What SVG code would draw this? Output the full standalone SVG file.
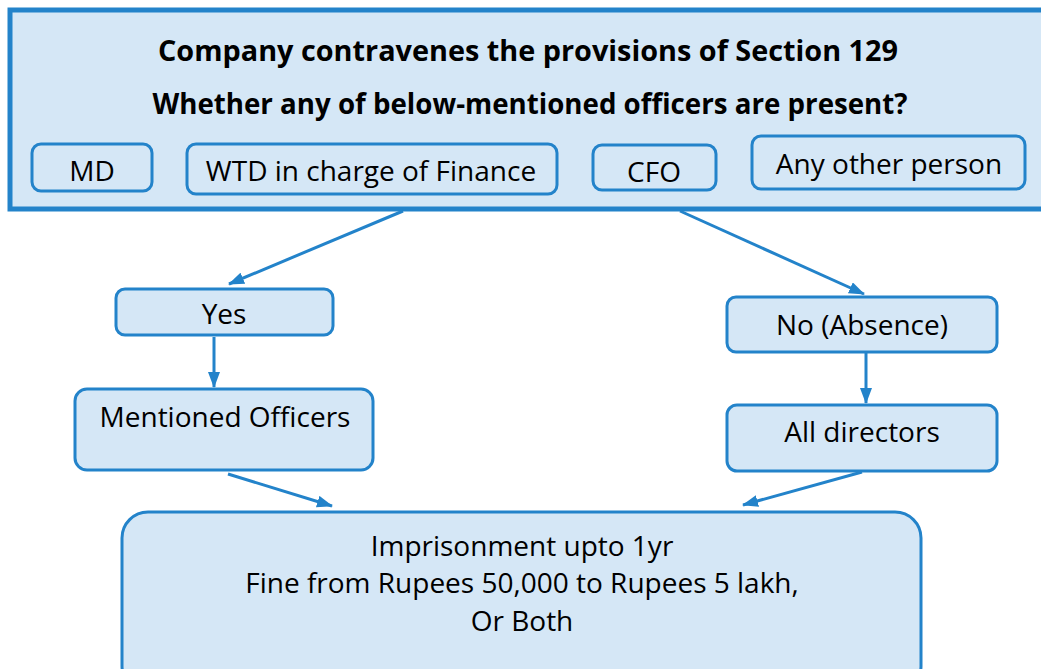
<svg xmlns="http://www.w3.org/2000/svg" width="1041" height="669" viewBox="0 0 1041 669">
<style>
.box{fill:#D5E7F6;stroke:#2383CA;stroke-width:3}
.t{font-family:"Open Sans","Noto Sans",sans-serif;font-size:28px;fill:#000;text-anchor:middle}
.b{font-weight:bold;font-size:28px}
.c{fill:none;stroke:#2383CA;stroke-width:3;marker-end:url(#ah)}
</style>
<defs>
<marker id="ah" viewBox="0 0 16 12" refX="15" refY="6" markerWidth="16" markerHeight="12" markerUnits="userSpaceOnUse" orient="auto">
<path d="M0,0 L16,6 L0,12 z" fill="#2383CA"/>
</marker>
</defs>
<rect width="1041" height="669" fill="#fff"/>
<g id="top">
<rect x="10" y="10" width="1040" height="199" fill="#D5E7F6" stroke="#2383CA" stroke-width="5"/>
<text class="t b" x="528" y="61" textLength="740" lengthAdjust="spacingAndGlyphs">Company contravenes the provisions of Section 129</text>
<text class="t b" x="530" y="114" textLength="755" lengthAdjust="spacingAndGlyphs">Whether any of below-mentioned officers are present?</text>
</g>
<g id="md"><rect class="box" x="32" y="144" width="120" height="47" rx="9"/><text class="t" x="92" y="181">MD</text></g>
<g id="wtd"><rect class="box" x="187" y="144" width="370" height="50" rx="9"/><text class="t" x="371" y="181">WTD in charge of Finance</text></g>
<g id="cfo"><rect class="box" x="593" y="145" width="123" height="45" rx="9"/><text class="t" x="654" y="182">CFO</text></g>
<g id="other"><rect class="box" x="752" y="136" width="273" height="53" rx="9"/><text class="t" x="889" y="174">Any other person</text></g>
<g id="yes"><rect class="box" x="116" y="289" width="217" height="46" rx="9"/><text class="t" x="224" y="324">Yes</text></g>
<g id="no"><rect class="box" x="727" y="297" width="270" height="55" rx="9"/><text class="t" x="862" y="335">No (Absence)</text></g>
<g id="mentioned"><rect class="box" x="75" y="389" width="298" height="81" rx="12"/><text class="t" x="225" y="427">Mentioned Officers</text></g>
<g id="directors"><rect class="box" x="727" y="405" width="270" height="66" rx="10"/><text class="t" x="862" y="442">All directors</text></g>
<g id="result"><rect class="box" x="122" y="512" width="799" height="180" rx="26"/>
<text class="t" x="522" y="556">Imprisonment upto 1yr</text>
<text class="t" x="522" y="593">Fine from Rupees 50,000 to Rupees 5 lakh,</text>
<text class="t" x="522" y="631">Or Both</text>
</g>
<g id="connectors">
<line class="c" x1="403" y1="211" x2="229" y2="284"/>
<line class="c" x1="680" y1="211" x2="864" y2="294"/>
<line class="c" x1="214" y1="337" x2="214" y2="387"/>
<line class="c" x1="866" y1="353" x2="866" y2="403"/>
<line class="c" x1="228" y1="474" x2="332" y2="506"/>
<line class="c" x1="862" y1="472" x2="743" y2="505"/>
</g>
</svg>
